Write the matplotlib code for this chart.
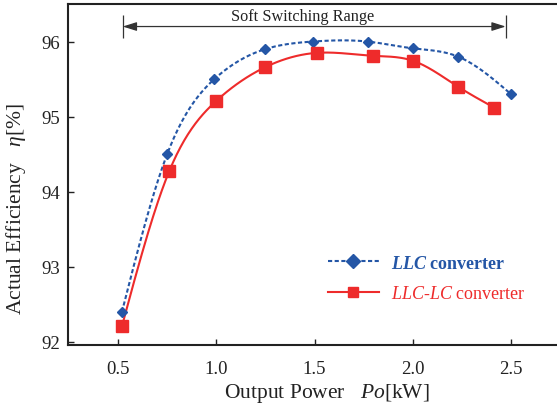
import numpy as np
import matplotlib
matplotlib.use("Agg")
import matplotlib.pyplot as plt

plt.rcParams['font.family'] = ['Liberation Serif', 'DejaVu Serif']
plt.rcParams['mathtext.fontset'] = 'custom'
plt.rcParams['mathtext.rm'] = 'Liberation Serif'
plt.rcParams['mathtext.it'] = 'Liberation Serif:italic'
plt.rcParams['mathtext.bf'] = 'Liberation Serif:bold'
plt.rcParams['mathtext.bfit'] = 'Liberation Serif:italic:bold'

# ---- data ----
llc_power = [0.52, 0.75, 0.99, 1.25, 1.49, 1.77, 2.00, 2.23, 2.50]
llc_eff = [92.40, 94.50, 95.50, 95.90, 96.00, 96.00, 95.91, 95.80, 95.30]
llclc_power = [0.52, 0.76, 1.00, 1.25, 1.515, 1.80, 2.00, 2.23, 2.415]
llclc_eff = [92.21, 94.27, 95.21, 95.66, 95.85, 95.81, 95.745, 95.40, 95.12]
x_ticks = [0.5, 1.0, 1.5, 2.0, 2.5]
x_tick_labels = ['0.5', '1.0', '1.5', '2.0', '2.5']
y_ticks = [92, 93, 94, 95, 96]
y_tick_labels = ['92', '93', '94', '95', '96']
soft_range = [0.524, 2.473]
soft_label = 'Soft Switching Range'
soft_label_x = 1.439

BLUE = '#2456A6'
RED = '#EE2B2B'


def natural_spline(x, y, n=300):
    x = np.asarray(x, float)
    y = np.asarray(y, float)
    m = len(x)
    h = np.diff(x)
    A = np.zeros((m, m))
    b = np.zeros(m)
    A[0, 0] = 1
    A[-1, -1] = 1
    for i in range(1, m - 1):
        A[i, i - 1] = h[i - 1]
        A[i, i] = 2 * (h[i - 1] + h[i])
        A[i, i + 1] = h[i]
        b[i] = 6 * ((y[i + 1] - y[i]) / h[i] - (y[i] - y[i - 1]) / h[i - 1])
    M = np.linalg.solve(A, b)
    xs = np.linspace(x[0], x[-1], n)
    idx = np.clip(np.searchsorted(x, xs) - 1, 0, m - 2)
    x0, x1 = x[idx], x[idx + 1]
    hh = x1 - x0
    t0 = x1 - xs
    t1 = xs - x0
    ys = (M[idx] * t0 ** 3 / (6 * hh) + M[idx + 1] * t1 ** 3 / (6 * hh)
          + (y[idx] / hh - M[idx] * hh / 6) * t0
          + (y[idx + 1] / hh - M[idx + 1] * hh / 6) * t1)
    return xs, ys


fig = plt.figure(figsize=(5.57, 4.14), dpi=100)
ax = fig.add_axes([68 / 557, 68 / 414, 1 - 68 / 557, (346 - 5) / 414])

# curves
sx, sy = natural_spline(llc_power, llc_eff)
ax.plot(sx, sy, color=BLUE, lw=1.5, dashes=(2, 1.2), zorder=3)
ax.plot(llc_power, llc_eff, ls='none', marker='D', ms=5.5, color=BLUE,
        zorder=4)
sx2, sy2 = natural_spline(llclc_power, llclc_eff)
ax.plot(sx2, sy2, color=RED, lw=1.5, zorder=3)
ax.plot(llclc_power, llclc_eff, ls='none', marker='s', ms=8, color=RED,
        zorder=4)

# legend
h1, = ax.plot([], [], color=BLUE, lw=1.5, dashes=(2, 1.2), marker='D', ms=7)
h2, = ax.plot([], [], color=RED, lw=1.5, marker='s', ms=7)
leg = ax.legend([h1, h2],
                [r'$\mathbfit{LLC}$ converter', r'$\mathit{LLC}$-$\mathit{LC}$ converter'],
                loc='upper left', bbox_to_anchor=(0.532, 0.265), frameon=False,
                fontsize=13, handlelength=2.8, handletextpad=0.66,
                labelspacing=0.75, borderpad=0, borderaxespad=0, numpoints=1)
t1, t2 = leg.get_texts()
t1.set_color(BLUE)
t1.set_fontweight('bold')
t2.set_color(RED)

# soft switching range annotation
ax.annotate('', xy=(soft_range[0], 96.2), xytext=(soft_range[1], 96.2),
            arrowprops=dict(arrowstyle='<|-|>,head_length=0.7,head_width=0.22',
                            color='#333333', lw=0.9, shrinkA=0, shrinkB=0,
                            mutation_scale=12))
ax.vlines(soft_range, 96.05, 96.36, color='#333333', lw=0.9)
ax.text(soft_label_x, 96.29, soft_label, ha='center', va='baseline',
        fontsize=11.7, color='#222222')

ax.set_xlim(0.2455, 2.734)
ax.set_ylim(91.96, 96.5)
ax.set_xticks(x_ticks)
ax.set_xticklabels(x_tick_labels)
ax.set_yticks(y_ticks)
ax.set_yticklabels(y_tick_labels)
ax.tick_params(direction='in', length=4, width=1, labelsize=13.5,
               colors='#222222')
ax.tick_params(axis='x', pad=11)
ax.tick_params(axis='y', pad=6)
for side in ['left', 'bottom', 'top']:
    ax.spines[side].set_linewidth(1.5)
    ax.spines[side].set_color('#222222')
ax.spines['right'].set_visible(False)

ax.set_xlabel(r'Output Power   $\mathit{Po}$[kW]', fontsize=15.5, color='#222222')
ax.xaxis.set_label_coords(0.529, -0.106)
ax.set_ylabel(r'Actual Efficiency   $\mathit{\eta}$[%]', fontsize=15.5,
              color='#222222')
ax.yaxis.set_label_coords(-0.082, 0.40)

fig.savefig('out.png', dpi=100)
